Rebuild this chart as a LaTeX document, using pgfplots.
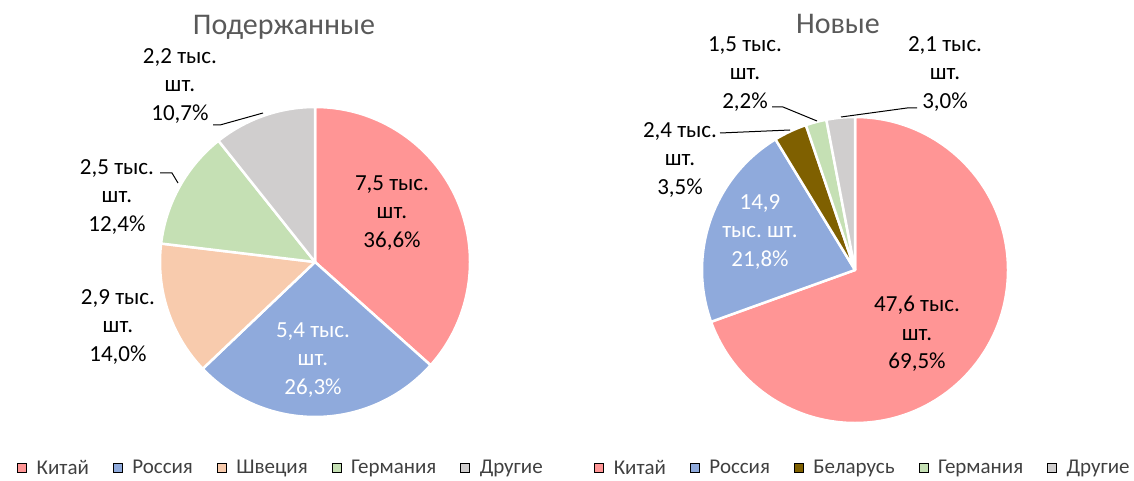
\documentclass[border=0pt]{standalone}
\usepackage{fontspec}
\setmainfont{Carlito}
\usepackage{pgfplots}
\pgfplotsset{compat=1.18}
\frenchspacing

\definecolor{china}{HTML}{FF9595}
\definecolor{russia}{HTML}{8FAADC}
\definecolor{sweden}{HTML}{F8CBAD}
\definecolor{germany}{HTML}{C5E0B4}
\definecolor{other}{HTML}{D0CECE}
\definecolor{belarus}{HTML}{7F6000}
\definecolor{titlegray}{HTML}{595959}
\definecolor{leggray}{HTML}{404040}

% pie slice: center x, center y, radius (pt), start %, end %, colour
\newcommand{\slice}[6]{%
  \fill[#6, draw=white, line width=2.5pt, line join=round]
    (axis cs:#1,#2) -- ++({90-3.6*#4}:#3pt)
    arc[start angle={90-3.6*#4}, end angle={90-3.6*#5}, radius=#3pt] -- cycle;}

\newcommand{\lblfont}{\fontsize{23}{28.5}\selectfont}
\newcommand{\ttlfont}{\fontsize{30}{34}\selectfont}

\pgfplotsset{
  pie/.style={
    hide axis, scale only axis, clip=false,
    x=1pt, y=1pt, ymin=0, ymax=480,
    anchor=south west,
    legend columns=-1,
    legend image code/.code={\fill[##1] (0pt,-4.5pt) rectangle (9pt,4.5pt);},
    legend style={draw=none, fill=none, anchor=center,
      font=\fontsize{21}{24}\selectfont, text=leggray,
      inner sep=0pt,
      /tikz/every even column/.append style={column sep=22pt},
      /tikz/every odd column/.append style={column sep=8pt}},
  },
}

\begin{document}
\begin{tikzpicture}
\path[use as bounding box] (0pt,0pt) rectangle (1134pt,480pt);
% ---------- used ----------
\begin{axis}[pie, at={(0pt,0pt)}, xmin=0, xmax=567,
  legend style={at={(axis cs:281,12)}}]
\addlegendimage{fill=china}\addlegendentry{Китай}
\addlegendimage{fill=russia}\addlegendentry{Россия}
\addlegendimage{fill=sweden}\addlegendentry{Швеция}
\addlegendimage{fill=germany}\addlegendentry{Германия}
\addlegendimage{fill=other}\addlegendentry{Другие}

\slice{315}{218}{155}{0}{36.6}{china}
\slice{315}{218}{155}{36.6}{62.9}{russia}
\slice{315}{218}{155}{62.9}{76.9}{sweden}
\slice{315}{218}{155}{76.9}{89.3}{germany}
\slice{315}{218}{155}{89.3}{100}{other}

\node[font=\ttlfont, text=titlegray] at (axis cs:284,453) {Подержанные};

\node[align=center, font=\lblfont] at (axis cs:392,267) {7,5 тыс.\\шт.\\36,6\%};
\node[align=center, font=\lblfont, text=white] at (axis cs:313,120) {5,4 тыс.\\шт.\\26,3\%};
\node[align=center, font=\lblfont] at (axis cs:118,153) {2,9 тыс.\\шт.\\14,0\%};
\node[align=center, font=\lblfont] at (axis cs:117,283) {2,5 тыс.\\шт.\\12,4\%};
\node[align=center, font=\lblfont] at (axis cs:180,394) {2,2 тыс.\\шт.\\10,7\%};

\draw[line width=1pt] (axis cs:160,307) -- (axis cs:172,307) -- (axis cs:178,297);
\draw[line width=1pt] (axis cs:213,355) -- (axis cs:220,355) -- (axis cs:263,367);
\end{axis}

% ---------- new ----------
\begin{axis}[pie, at={(567pt,0pt)}, xmin=567, xmax=1134,
  legend style={at={(axis cs:863,12)}}]
\addlegendimage{fill=china}\addlegendentry{Китай}
\addlegendimage{fill=russia}\addlegendentry{Россия}
\addlegendimage{fill=belarus}\addlegendentry{Беларусь}
\addlegendimage{fill=germany}\addlegendentry{Германия}
\addlegendimage{fill=other}\addlegendentry{Другие}

\slice{855}{210}{153}{0}{69.5}{china}
\slice{855}{210}{153}{69.5}{91.3}{russia}
\slice{855}{210}{153}{91.3}{94.8}{belarus}
\slice{855}{210}{153}{94.8}{97.0}{germany}
\slice{855}{210}{153}{97.0}{100}{other}

\node[font=\ttlfont, text=titlegray] at (axis cs:838,456) {Новые};

\node[align=center, font=\lblfont] at (axis cs:917,146) {47,6 тыс.\\шт.\\69,5\%};
\node[align=center, font=\lblfont, text=white] at (axis cs:760,248) {14,9\\тыс. шт.\\21,8\%};
\node[align=center, font=\lblfont] at (axis cs:680,320) {2,4 тыс.\\шт.\\3,5\%};
\node[align=center, font=\lblfont] at (axis cs:745,406) {1,5 тыс.\\шт.\\2,2\%};
\node[align=center, font=\lblfont] at (axis cs:945,406) {2,1 тыс.\\шт.\\3,0\%};

\draw[line width=1pt] (axis cs:720,347) -- (axis cs:790,350);
\draw[line width=1pt] (axis cs:772,373) -- (axis cs:783,373) -- (axis cs:817,359);
\draw[line width=1pt] (axis cs:841,363) -- (axis cs:907,372) -- (axis cs:917,372);
\end{axis}
\end{tikzpicture}
\end{document}
